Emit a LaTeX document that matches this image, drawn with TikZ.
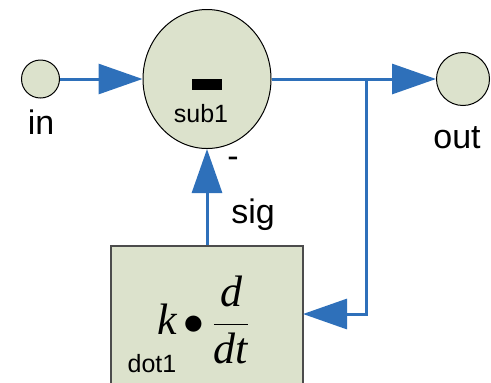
\documentclass[tikz,border=0pt]{standalone}
\usepackage{fontspec}
\usepackage{amsmath}
\usetikzlibrary{arrows.meta}
\setmainfont{Liberation Sans}
\newfontfamily\tnr{Liberation Serif}
\definecolor{blk_fill}{RGB}{220, 226, 204}
\definecolor{wire_blue}{RGB}{46, 112, 186}
\tikzstyle{port}=[circle,fill=blk_fill,draw=black,line width=0.5pt,inner sep=0pt]
\tikzstyle{sum}=[ellipse,fill=blk_fill,draw=black,line width=0.5pt,inner sep=0pt,
  minimum width=64pt,minimum height=69.5pt]
\tikzstyle{blk}=[rectangle,fill=blk_fill,draw=black!70,line width=0.6pt,inner sep=0pt,
  minimum width=96pt,minimum height=74pt]
\tikzstyle{wire}=[draw=wire_blue,line width=1.5pt,-{Triangle[length=22pt,width=15pt]}]
\tikzstyle{bigtxt}=[inner sep=0pt,font=\fontsize{17}{20}\selectfont]
\tikzstyle{smalltxt}=[inner sep=0pt,font=\fontsize{12.5}{15}\selectfont]
\tikzstyle{none}=[inner sep=0pt]
\usetikzlibrary{shapes.geometric}

\begin{document}
\begin{tikzpicture}[x=0.5pt,y=-0.5pt]
            \clip (0, 0) rectangle (491, 382);
            \node [style=port, minimum size=19pt] (0) at (40.5, 79) {};
            \node [style=sum] (1) at (207, 79) {};
            \node [style=port, minimum size=26.5pt] (2) at (463, 79) {};
            \node [style=blk] (3) at (207, 320) {};
            \node [style=none] (4) at (366, 79) {};
            \node [style=none] (5) at (366, 314) {};
            \node [style=none] (6) at (303, 314) {};
            \node [fill=black, minimum width=15pt, minimum height=5.5pt, inner sep=0pt] (7) at (207, 84.5) {};
            \node [style=smalltxt] (8) at (201, 114) {sub1};
            \node [style=bigtxt] (9) at (41, 122) {in};
            \node [style=bigtxt] (10) at (457, 138) {out};
            \node [style=bigtxt] (11) at (253, 215) {sig};
            \node [style=bigtxt] (12) at (233, 162) {-};
            \node [style=smalltxt] (13) at (152, 364) {dot1};
            \node [style=none, font=\fontsize{22}{25}\selectfont] (14) at (204, 320)
              {{\tnr\itshape k}$\,\bullet\,\dfrac{\mbox{\tnr\itshape d}}{\mbox{\tnr\itshape dt}}$};
            \draw [style=wire] (0) to (1);
            \draw [style=wire] (1) to (2);
            \draw [style=wire] (3) to (1);
            \draw [style=wire] (4.center) to (5.center) to (6.center);
    \end{tikzpicture}
\end{document}
